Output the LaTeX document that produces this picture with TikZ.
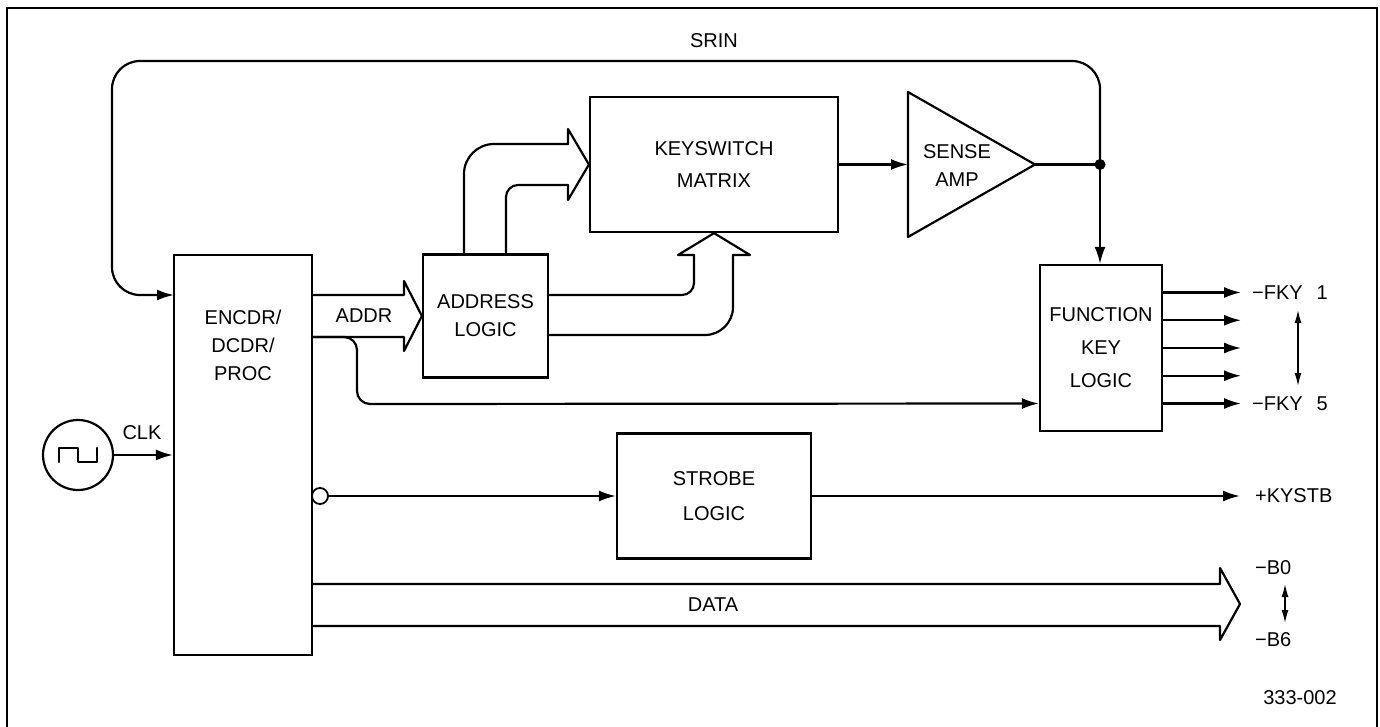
\documentclass[tikz,border=0pt]{standalone}
\usepackage{fontspec}
\setmainfont{Liberation Sans}
\usetikzlibrary{arrows.meta}

\tikzset{
  blockbox/.style 2 args={draw, minimum width=#1, minimum height=#2, inner sep=0pt, align=center},
  lbl/.style={inner sep=0pt, align=center},
  wire/.style={line cap=round, line join=round},
  sig/.style={wire, -{Latex[length=17pt,width=11pt]}},
  dbl/.style={line width=1.4pt, {Latex[length=13pt,width=7pt]}-{Latex[length=13pt,width=7pt]}}
}

\begin{document}
\begin{tikzpicture}[x=1pt, y=-1pt, line width=2.2pt, font=\fontsize{20}{24}\selectfont]
  \useasboundingbox (0,0) rectangle (1380,727);
  % frame
  \draw (7,727) -- (7,8) -- (1377,8) -- (1377,727);

  % blocks
  \node[blockbox={138pt}{400pt}] (enc) at (243,455) {};
  \node[lbl] (enctxt) at (243,345) {ENCDR/\\[4pt]DCDR/\\[4pt]PROC};
  \node[blockbox={125pt}{123pt}] (addr) at (485.5,316) {ADDRESS\\[4pt]LOGIC};
  \node[blockbox={248pt}{135pt}] (ksm) at (714,164.5) {KEYSWITCH\\[8pt]MATRIX};
  \node[blockbox={122pt}{166pt}] (fkl) at (1101,348) {FUNCTION\\[9pt]KEY\\[9pt]LOGIC};
  \node[blockbox={194pt}{125pt}] (stb) at (714,496) {STROBE\\[11pt]LOGIC};
  \node[draw, circle, minimum size=70pt, inner sep=0pt] (clk) at (78,455) {};
  \node[draw, circle, minimum size=16pt, inner sep=0pt, line width=1.8pt] (bub) at (320,496) {};

  % sense amp
  \draw[wire] (908,92) -- (1035,164.5) -- (908,237) -- cycle;
  \node[lbl] (amptxt) at (957,166) {SENSE\\[4pt]AMP};
  \coordinate (ampin) at (908,164.5);
  \coordinate (ampout) at (1035,164.5);
  \coordinate (tap) at (1100,164.5);
  \coordinate (srinin) at (174,295);

  % clock symbol
  \draw[wire] (59,462) -- (59,448) -- (78,448) -- (78,462) -- (97,462) -- (97,448);
  \draw[sig] (clk.east) -- (clk.east -| enc.west);
  \node[lbl] (clklbl) at (142,433) {CLK};

  % matrix sense path
  \draw[sig] (ksm.east) -- (ampin);
  \draw[wire] (ampout) -- (tap);
  \fill (tap) circle (5.5pt);
  \draw[sig] (tap) -- (tap |- fkl.north);
  \draw[sig, rounded corners=28pt] (tap) -- (1100,61) -- (112,61) -- (112,295) -- (srinin);
  \node[lbl] (srin) at (714,41) {SRIN};

  % ADDR bus
  \draw[wire] (312,295) -- (404,295) -- (404,281) -- (addr.west) -- (404,351) -- (404,337) -- (312,337);
  \node[lbl] (addrlbl) at (364,316) {ADDR};
  \draw[sig, rounded corners=13pt] (312,337) -- (357,337) -- (357,404) -- ([yshift=-55.5pt]fkl.west);

  % address buses into matrix
  \draw[wire, rounded corners=30pt] (464,254.5) -- (464,144) -- (568,144);
  \draw[wire] (568,144) -- (568,129) -- (ksm.west) -- (568,200) -- (568,185);
  \draw[wire, rounded corners=12pt] (568,185) -- (506,185) -- (506,254.5);
  \draw[wire, rounded corners=28pt] (548,335) -- (733,335) -- (733,255);
  \draw[wire] (733,255) -- (750,255) -- (ksm.south) -- (678,255) -- (694,255);
  \draw[wire, rounded corners=12pt] (694,255) -- (694,295) -- (548,295);

  % function key outputs
  \foreach \k in {-2,...,2}
    \draw[sig] ([yshift={-27.75pt*\k}]fkl.east) -- ++(78,0);
  \node[lbl, anchor=west] (fky1) at (1251,293) {−FKY\hspace{14pt}1};
  \node[lbl, anchor=west] (fky5) at (1251,404) {−FKY\hspace{14pt}5};
  \coordinate (fkytop) at (1298,310);
  \coordinate (fkybot) at (1298,386);
  \draw[dbl] (fkytop) -- (fkybot);

  % strobe
  \node[lbl, anchor=west] (kystb) at (1254,496) {+KYSTB};
  \draw[sig] (bub.east) -- (stb.west |- bub.east);
  \draw[sig, shorten >=14pt] (stb.east) -- (kystb.west);

  % data bus
  \draw[wire] (312,584) -- (1220,584) -- (1220,568) -- (1240,604) -- (1220,640) -- (1220,626) -- (312,626);
  \node[lbl] (datalbl) at (713,605) {DATA};
  \node[lbl, anchor=west] (b0) at (1254,568) {−B0};
  \node[lbl, anchor=west] (b6) at (1254,640) {−B6};
  \coordinate (btop) at (1285,584);
  \coordinate (bbot) at (1285,623);
  \draw[dbl] (btop) -- (bbot);

  \node[lbl] (figno) at (1300,698) {333-002};
\end{tikzpicture}
\end{document}
